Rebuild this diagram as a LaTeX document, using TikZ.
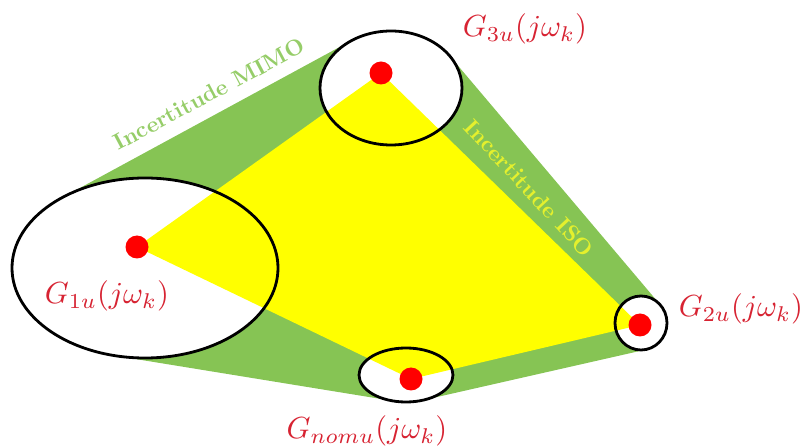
\documentclass[tikz,border=0pt]{standalone}
\usetikzlibrary{shapes.geometric}
\definecolor{bandgreen}{RGB}{134,196,84}
\definecolor{mimotext}{RGB}{150,205,105}
\definecolor{isotext}{RGB}{228,240,45}
\definecolor{labelred}{RGB}{215,35,50}
\definecolor{dotred}{RGB}{255,0,0}
\definecolor{polyyellow}{RGB}{255,255,0}
\begin{document}
\begin{tikzpicture}[x=1pt,y=-1pt,
  dot/.style={circle,fill=dotred,inner sep=0pt,minimum size=23pt},
  ring/.style={ellipse,draw=black,line width=2.8pt,inner sep=0pt},
  lab/.style={text=labelred,inner sep=0pt,scale=3.05,transform shape},
  bandtext/.style={font=\bfseries,inner sep=0pt,scale=2.25,transform shape}]
\useasboundingbox (0,0) rectangle (804,446);
% ellipse centres
\coordinate (c1) at (145,268);
\coordinate (c3) at (391,88);
\coordinate (c2) at (641,323);
\coordinate (cn) at (406,375);
% green hull (MIMO uncertainty)
\fill[bandgreen] (62.2,197.6) -- (351.4,40.6) -- (449.8,56.0) -- (660.6,305.2)
  -- (646.8,349.4) -- (423.8,400.0) -- (392.9,400.9) -- (113.3,355.4) -- cycle;
% white ellipse interiors
\fill[white] (c1) ellipse [x radius=133pt,y radius=90pt];
\fill[white] (c3) ellipse [x radius=71pt,y radius=57pt];
\fill[white] (c2) ellipse [x radius=26pt,y radius=27pt];
\fill[white] (cn) ellipse [x radius=47pt,y radius=27pt];
% nominal points
\coordinate (p1) at (137,247);
\coordinate (p3) at (381,73);
\coordinate (p2) at (640,325);
\coordinate (pn) at (411,379);
% yellow polygon (ISO uncertainty)
\fill[polyyellow] (p1) -- (p3) -- (p2) -- (pn) -- cycle;
% ellipse outlines
\node[ring,minimum width=266pt,minimum height=180pt] (e1) at (c1) {};
\node[ring,minimum width=142pt,minimum height=114pt] (e3) at (c3) {};
\node[ring,minimum width=52pt,minimum height=54pt] (e2) at (c2) {};
\node[ring,minimum width=94pt,minimum height=54pt] (en) at (cn) {};
% red dots
\node[dot] (g1) at (p1) {};
\node[dot] (g3) at (p3) {};
\node[dot] (g2) at (p2) {};
\node[dot] (gn) at (pn) {};
% labels
\node[lab] (l3) at (525,29) {$G_{3u}(j\omega_k)$};
\node[lab] (l1) at (107,296) {$G_{1u}(j\omega_k)$};
\node[lab] (l2) at (741,309) {$G_{2u}(j\omega_k)$};
\node[lab] (ln) at (367,431) {$G_{nomu}(j\omega_k)$};
% band texts
\node[bandtext,text=mimotext,rotate=28] (tm) at (209,94) {Incertitude MIMO};
\node[bandtext,text=isotext,rotate=-47] (ti) at (529,188) {Incertitude ISO};
\end{tikzpicture}
\end{document}
